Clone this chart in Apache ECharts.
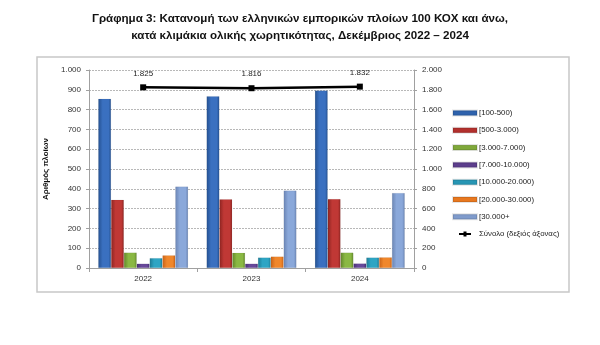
<!DOCTYPE html>
<html>
<head>
<meta charset="utf-8">
<script src="https://cdn.jsdelivr.net/npm/echarts@6/dist/echarts.min.js"></script>
<style>
  html, body { margin: 0; padding: 0; background: #ffffff; }
  #chart { width: 600px; height: 345px; }
</style>
</head>
<body>
<div id="chart"></div>
<script>
// Greek merchant fleet (100 GT and over) by gross tonnage class, December 2022–2024
const years = ['2022', '2023', '2024'];

const class100_500     = [855, 868, 897];
const class500_3000    = [345, 347, 348];
const class3000_7000   = [78, 77, 78];
const class7000_10000  = [22, 22, 23];
const class10000_20000 = [50, 53, 53];
const class20000_30000 = [64, 58, 54];
const class30000plus   = [411, 391, 379];
const totalShips       = [1825, 1816, 1832];

const seriesNames = [
  '[100-500)', '[500-3.000)', '[3.000-7.000)', '[7.000-10.000)',
  '[10.000-20.000)', '[20.000-30.000)', '[30.000+', 'Σύνολο (δεξιός άξονας)'
];

const leftTicks = { min: 0, max: 1000, interval: 100 };
const rightTicks = { min: 0, max: 2000, interval: 200 };

// Greek thousands separator: 1.825
function fmt(v) {
  return String(v).replace(/\B(?=(\d{3})+(?!\d))/g, '.');
}

// Bars are shaded left-to-right (dark edge, lighter body)
function grad(light, dark) {
  return new echarts.graphic.LinearGradient(0, 0, 1, 0, [
    { offset: 0, color: dark },
    { offset: 0.35, color: light },
    { offset: 0.8, color: light },
    { offset: 1, color: dark }
  ]);
}

const barColors = [
  ['#3a70c0', '#24508f'],
  ['#c03835', '#8c2421'],
  ['#8ab843', '#62862b'],
  ['#67489a', '#473073'],
  ['#2ea5c4', '#1d7b94'],
  ['#f0872b', '#c86218'],
  ['#8aa8da', '#6a84b3']
];
const legendColors = ['#2e62ad', '#b3302d', '#7fa83a', '#5c3e8c', '#2796b4', '#e8781f', '#7f9bcc'];

const barData = [class100_500, class500_3000, class3000_7000, class7000_10000,
                 class10000_20000, class20000_30000, class30000plus];

const series = barData.map((d, i) => ({
  name: seriesNames[i],
  type: 'bar',
  yAxisIndex: 0,
  data: d,
  barGap: '0%',
  barCategoryGap: '17%',
  itemStyle: {
    color: grad(barColors[i][0], barColors[i][1]),
    borderColor: 'rgba(0,0,0,0.10)',
    borderWidth: 0.5
  },
  emphasis: { disabled: true }
}));

series.push({
  name: seriesNames[7],
  type: 'line',
  yAxisIndex: 1,
  data: totalShips,
  symbol: 'rect',
  symbolSize: 6,
  z: 5,
  lineStyle: { color: '#000000', width: 2.5 },
  itemStyle: { color: '#000000' },
  label: {
    show: true,
    position: 'top',
    distance: 7,
    formatter: p => fmt(p.value),
    fontSize: 8,
    fontFamily: 'Liberation Sans',
    color: '#222'
  },
  emphasis: { disabled: true }
});

const chart = echarts.init(document.getElementById('chart'), null, { renderer: 'canvas' });

const axisLabelStyle = { fontSize: 8, color: '#333', fontFamily: 'Liberation Sans' };

chart.setOption({
  animation: false,
  backgroundColor: '#ffffff',
  title: {
    text: 'Γράφημα 3: Κατανομή των ελληνικών εμπορικών πλοίων 100 ΚΟΧ και άνω,\nκατά κλιμάκια ολικής χωρητικότητας, Δεκέμβριος 2022 – 2024',
    left: 'center',
    top: 5,
    textStyle: {
      fontSize: 11.6,
      fontWeight: 'bold',
      fontFamily: 'Liberation Sans',
      color: '#111',
      lineHeight: 17
    }
  },
  graphic: [{
    type: 'rect',
    shape: { x: 37, y: 57, width: 532, height: 235 },
    style: { fill: 'none', stroke: '#c8c8c8', lineWidth: 1.5 },
    silent: true
  }],
  legend: {
    orient: 'vertical',
    left: 452,
    top: 109,
    padding: 0,
    itemWidth: 24,
    itemHeight: 5,
    itemGap: 9.3,
    data: seriesNames.map((n, i) => i < 7
      ? { name: n, icon: 'rect', itemStyle: { color: legendColors[i] } }
      : { name: n, icon: 'path://M0,3 L9,3 L9,0 L15,0 L15,3 L24,3 L24,7 L15,7 L15,10 L9,10 L9,7 L0,7 Z', itemStyle: { color: '#000' } }),
    textStyle: { fontSize: 7.8, color: '#222', fontFamily: 'Liberation Sans', padding: [0, 0, 0, -3] },
    selectedMode: false
  },
  grid: { left: 89, right: 186, top: 70, bottom: 77 },
  xAxis: {
    type: 'category',
    data: years,
    axisLine: { lineStyle: { color: '#a0a0a0', width: 1 } },
    axisTick: { show: true, lineStyle: { color: '#a0a0a0' }, length: 4 },
    axisLabel: Object.assign({ margin: 7 }, axisLabelStyle)
  },
  yAxis: [{
    type: 'value',
    min: leftTicks.min,
    max: leftTicks.max,
    interval: leftTicks.interval,
    name: 'Αριθμός πλοίων',
    nameLocation: 'middle',
    nameRotate: 90,
    nameGap: 31,
    nameTextStyle: { fontSize: 8, fontWeight: 'bold', color: '#111', fontFamily: 'Liberation Sans' },
    axisLine: { show: true, lineStyle: { color: '#a0a0a0' } },
    axisTick: { show: true, length: 3, lineStyle: { color: '#a0a0a0' } },
    axisLabel: Object.assign({ formatter: fmt, margin: 8 }, axisLabelStyle),
    splitLine: { show: true, lineStyle: { color: '#b8b8b8', type: [2, 1], width: 1 } }
  }, {
    type: 'value',
    min: rightTicks.min,
    max: rightTicks.max,
    interval: rightTicks.interval,
    position: 'right',
    axisLine: { show: true, lineStyle: { color: '#a0a0a0' } },
    axisTick: { show: true, length: 3, lineStyle: { color: '#a0a0a0' } },
    axisLabel: Object.assign({ formatter: fmt, margin: 8 }, axisLabelStyle),
    splitLine: { show: false }
  }],
  series: series
});
</script>
</body>
</html>
